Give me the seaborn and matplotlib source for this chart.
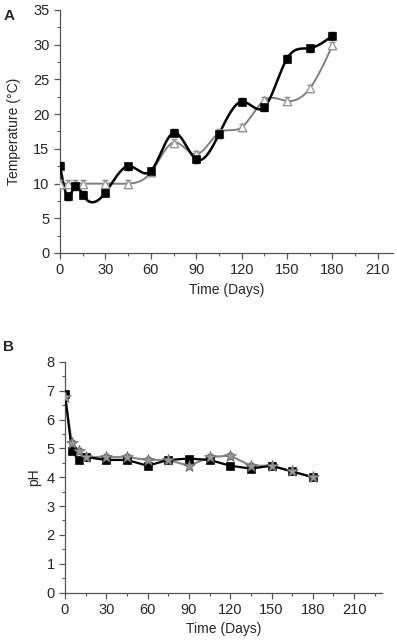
# -*- coding: utf-8 -*-
import numpy as np
import pandas as pd
import matplotlib
matplotlib.use("Agg")
import matplotlib.pyplot as plt
import seaborn as sns
from matplotlib.ticker import MultipleLocator

# --- data ---
days = [0, 5, 10, 15, 30, 45, 60, 75, 90, 105, 120, 135, 150, 165, 180]

temp_black = [12.6, 8.2, 9.6, 8.4, 8.7, 12.5, 11.8, 17.3, 13.5, 17.1, 21.8, 21.0, 28.0, 29.5, 31.3]
temp_white = [10.0, 10.0, 10.0, 10.0, 10.0, 10.0, 11.6, 15.9, 14.2, 17.3, 18.1, 22.0, 21.9, 23.7, 29.9]
temp_err = [0.5] * 15

ph_black = [6.9, 4.9, 4.6, 4.7, 4.6, 4.6, 4.4, 4.6, 4.65, 4.6, 4.4, 4.3, 4.4, 4.2, 4.0]
ph_gray = [6.8, 5.2, 4.9, 4.7, 4.7, 4.7, 4.6, 4.6, 4.4, 4.7, 4.75, 4.4, 4.4, 4.2, 4.0]
ph_err = [0.1] * 15


def natural_spline(x, y, n=400):
    """natural cubic spline through the points (curve connector like Origin)"""
    x = np.asarray(x, float); y = np.asarray(y, float)
    k = len(x); h = np.diff(x)
    A = np.zeros((k, k)); r = np.zeros(k)
    A[0, 0] = A[-1, -1] = 1
    for i in range(1, k - 1):
        A[i, i - 1] = h[i - 1]; A[i, i] = 2 * (h[i - 1] + h[i]); A[i, i + 1] = h[i]
        r[i] = 6 * ((y[i + 1] - y[i]) / h[i] - (y[i] - y[i - 1]) / h[i - 1])
    m = np.linalg.solve(A, r)
    xs = np.linspace(x[0], x[-1], n)
    idx = np.clip(np.searchsorted(x, xs) - 1, 0, k - 2)
    x0, x1 = x[idx], x[idx + 1]; hh = x1 - x0
    a = (x1 - xs) / hh; b = (xs - x0) / hh
    ys = a * y[idx] + b * y[idx + 1] + ((a ** 3 - a) * m[idx] + (b ** 3 - b) * m[idx + 1]) * hh ** 2 / 6
    return xs, ys


sns.set_style("ticks")
plt.rcParams['font.family'] = ['Liberation Sans', 'DejaVu Sans']
plt.rcParams['xtick.direction'] = 'out'
plt.rcParams['ytick.direction'] = 'out'

fig = plt.figure(figsize=(3.97, 6.4), dpi=100)
axA = fig.add_axes([0.1511, 0.6047, 0.8388, 0.3797])
axB = fig.add_axes([0.1637, 0.0742, 0.7977, 0.3602])

df_t = pd.DataFrame({'day': days, 'black': temp_black, 'white': temp_white})
df_p = pd.DataFrame({'day': days, 'black': ph_black, 'gray': ph_gray})

# --- panel A ---
xs, ys = natural_spline(days, temp_white)
axA.plot(xs, ys, color='#7f7f7f', lw=1.4, zorder=2)
xs, ys = natural_spline(days, temp_black)
axA.plot(xs, ys, color='black', lw=1.8, zorder=3)
axA.errorbar(days, temp_white, yerr=temp_err, fmt='none', ecolor='#8a8a8a', elinewidth=0.8, capsize=2.5, zorder=4)
axA.errorbar(days, temp_black, yerr=temp_err, fmt='none', ecolor='black', elinewidth=0.8, capsize=2.5, zorder=4)
sns.scatterplot(data=df_t, x='day', y='white', marker='^', s=36, color='white', edgecolor='#9a9a9a', linewidth=1.0, ax=axA, zorder=5)
sns.scatterplot(data=df_t, x='day', y='black', marker='s', s=30, color='black', edgecolor='black', ax=axA, zorder=6)

axA.set_xlim(0, 220); axA.set_ylim(0, 35)
axA.set_xticks(range(0, 211, 30)); axA.set_yticks(range(0, 36, 5))
axA.xaxis.set_minor_locator(MultipleLocator(15)); axA.yaxis.set_minor_locator(MultipleLocator(2.5))
axA.set_xlabel('Time (Days)', fontsize=10)
axA.set_ylabel('Temperature (°C)', fontsize=10, labelpad=9)
fig.text(0.008, 0.975, 'A', fontsize=11, fontweight='bold', va='center')

# --- panel B ---
axB.plot(days, ph_gray, color='#8a8a8a', lw=1.6, zorder=2)
axB.plot(days, ph_black, color='black', lw=1.6, zorder=3)
axB.errorbar(days, ph_black, yerr=ph_err, fmt='none', ecolor='black', elinewidth=0.8, capsize=2, zorder=4)
axB.errorbar(days, ph_gray, yerr=ph_err, fmt='none', ecolor='#7a7a7a', elinewidth=0.8, capsize=2, zorder=4)
sns.scatterplot(data=df_p, x='day', y='black', marker='s', s=30, color='black', edgecolor='black', ax=axB, zorder=5)
sns.scatterplot(data=df_p, x='day', y='gray', marker='*', s=75, color='#9a9a9a', edgecolor='#6a6a6a', linewidth=0.6, ax=axB, zorder=6)

axB.set_xlim(0, 230); axB.set_ylim(0, 8)
axB.set_xticks(range(0, 211, 30)); axB.set_yticks(range(0, 9, 1))
axB.xaxis.set_minor_locator(MultipleLocator(15)); axB.yaxis.set_minor_locator(MultipleLocator(0.5))
axB.set_xlabel('Time (Days)', fontsize=10)
axB.set_ylabel('pH', fontsize=10)
fig.text(0.008, 0.458, 'B', fontsize=11, fontweight='bold', va='center')

for ax in (axA, axB):
    sns.despine(ax=ax)
    ax.tick_params(axis='both', which='major', labelsize=10.5, length=4, width=0.9, color='#555555')
    ax.tick_params(axis='both', which='minor', length=2.5, width=0.8, color='#555555')
    for sp in ('left', 'bottom'):
        ax.spines[sp].set_color('#555555')
        ax.spines[sp].set_linewidth(0.9)

fig.savefig('out.png', dpi=100)
